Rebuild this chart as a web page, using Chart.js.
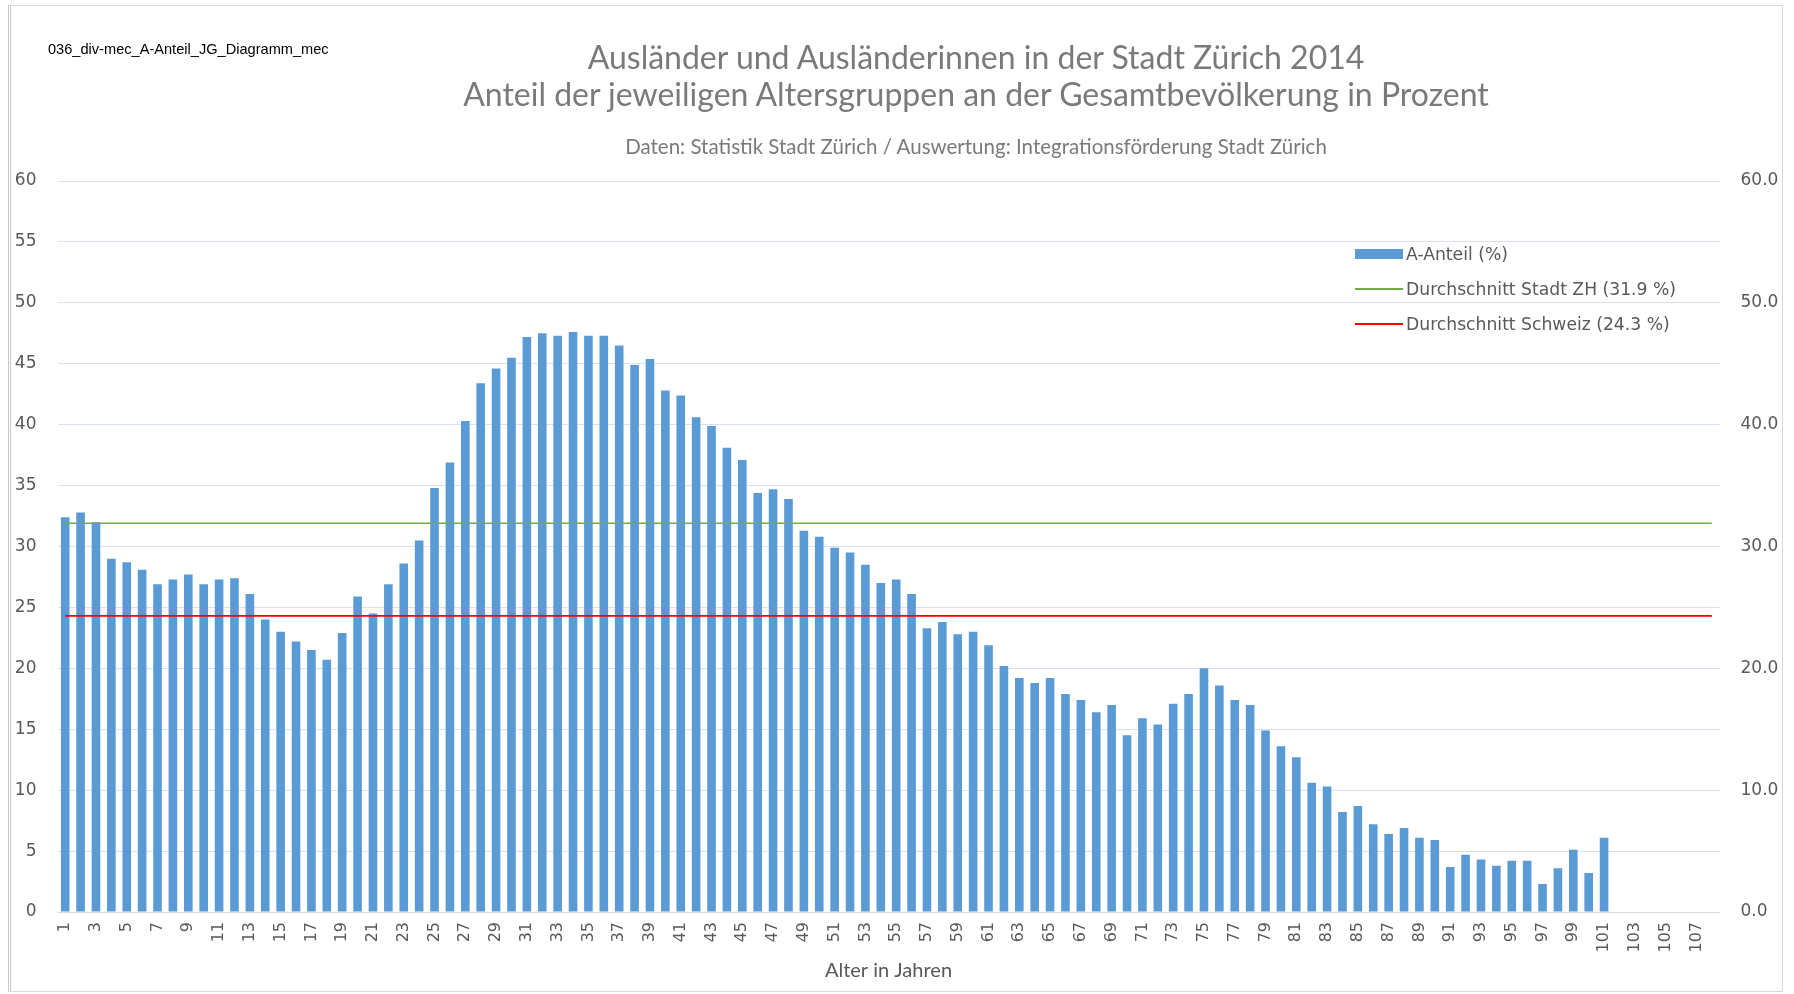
<!DOCTYPE html>
<html>
<head>
<meta charset="utf-8">
<script src="https://cdn.jsdelivr.net/npm/chart.js@4.4.1/dist/chart.umd.min.js"></script>
<style>
  html, body { margin: 0; padding: 0; background: #ffffff; }
  #wrap { position: relative; width: 1794px; height: 994px; overflow: hidden; background: #fff; }
  #c { position: absolute; left: 0; top: 0; }
  .frame { position: absolute; left: 8px; top: 5px; width: 1775px; height: 987px; box-sizing: border-box;
           border: 1px solid #d9d9d9; border-left: 3px double #c8c8c8; pointer-events: none; }
  .txt { position: absolute; white-space: nowrap; }
  #fname { left: 48px; top: 41px; font: 14.6px "Liberation Sans", Arial, sans-serif; color: #000; line-height: 16px; }
  .title { left: 976px; transform: translateX(-50%); font-family: Lato, "Open Sans", sans-serif; color: #7a7a7a; }
  #t1 { top: 38px; font-size: 32px; line-height: 37px; }
  #t2 { top: 75px; font-size: 32px; line-height: 37px; }
  #sub { top: 135px; font-size: 20.5px; line-height: 22px; color: #7a7a7a; }
  #legend { position: absolute; left: 1355px; top: 242px; font: 17.2px "DejaVu Sans", sans-serif; color: #595959; }
  .lrow { position: absolute; left: 0; height: 24px; white-space: nowrap; }
  .lsw { position: absolute; left: 0; width: 48px; }
  .ltx { position: absolute; left: 51px; top: 0; line-height: 24px; }
</style>
</head>
<body>
<div id="wrap">
  <canvas id="c" width="1794" height="994"></canvas>
  <div class="frame"></div>
  <div id="fname" class="txt">036_div-mec_A-Anteil_JG_Diagramm_mec</div>
  <div id="t1" class="txt title">Ausländer und Ausländerinnen in der Stadt Zürich 2014</div>
  <div id="t2" class="txt title">Anteil der jeweiligen Altersgruppen an der Gesamtbevölkerung in Prozent</div>
  <div id="sub" class="txt title">Daten: Statistik Stadt Zürich / Auswertung: Integrationsförderung Stadt Zürich</div>
  <div id="legend"></div>
</div>
<script>
// ---- data ----
const ages = ['1','2','3','4','5','6','7','8','9','10','11','12','13','14','15','16','17','18','19','20',
  '21','22','23','24','25','26','27','28','29','30','31','32','33','34','35','36','37','38','39','40',
  '41','42','43','44','45','46','47','48','49','50','51','52','53','54','55','56','57','58','59','60',
  '61','62','63','64','65','66','67','68','69','70','71','72','73','74','75','76','77','78','79','80',
  '81','82','83','84','85','86','87','88','89','90','91','92','93','94','95','96','97','98','99','100',
  '101','102','103','104','105','106','107','108'];

const aAnteil = [32.4, 32.8, 32.0, 29.0, 28.7, 28.1, 26.9, 27.3, 27.7, 26.9,
  27.3, 27.4, 26.1, 24.0, 23.0, 22.2, 21.5, 20.7, 22.9, 25.9,
  24.5, 26.9, 28.6, 30.5, 34.8, 36.9, 40.3, 43.4, 44.6, 45.5,
  47.2, 47.5, 47.3, 47.6, 47.3, 47.3, 46.5, 44.9, 45.4, 42.8,
  42.4, 40.6, 39.9, 38.1, 37.1, 34.4, 34.7, 33.9, 31.3, 30.8,
  29.9, 29.5, 28.5, 27.0, 27.3, 26.1, 23.3, 23.8, 22.8, 23.0,
  21.9, 20.2, 19.2, 18.8, 19.2, 17.9, 17.4, 16.4, 17.0, 14.5,
  15.9, 15.4, 17.1, 17.9, 20.0, 18.6, 17.4, 17.0, 14.9, 13.6,
  12.7, 10.6, 10.3, 8.2, 8.7, 7.2, 6.4, 6.9, 6.1, 5.9,
  3.7, 4.7, 4.3, 3.8, 4.2, 4.2, 2.3, 3.6, 5.1, 3.2,
  6.1, null, null, null, null, null, null, null];

const avgStadtZH = 31.9;
const avgSchweiz = 24.3;

const seriesNames = ['A-Anteil (%)', 'Durchschnitt Stadt ZH (31.9 %)', 'Durchschnitt Schweiz (24.3 %)'];
const leftTicks = [0, 5, 10, 15, 20, 25, 30, 35, 40, 45, 50, 55, 60];
const rightTicks = [0, 10, 20, 30, 40, 50, 60];
const xTitle = 'Alter in Jahren';

// ---- chart ----
const firstAge = ages[0], lastAge = ages[ages.length - 1];
const tickFont = { family: 'DejaVu Sans', size: 17 };

const chart = new Chart(document.getElementById('c'), {
  data: {
    labels: ages,
    datasets: [
      { type: 'bar', label: seriesNames[0], data: aAnteil, backgroundColor: '#5b9bd5',
        barPercentage: 0.56, categoryPercentage: 1.0, yAxisID: 'y', order: 2 },
      { type: 'line', label: seriesNames[1],
        data: [{ x: firstAge, y: avgStadtZH }, { x: lastAge, y: avgStadtZH }],
        borderColor: '#70ad47', borderWidth: 1.5, pointRadius: 0, fill: false, yAxisID: 'y', order: 1 },
      { type: 'line', label: seriesNames[2],
        data: [{ x: firstAge, y: avgSchweiz }, { x: lastAge, y: avgSchweiz }],
        borderColor: '#ff0000', borderWidth: 1.75, pointRadius: 0, fill: false, yAxisID: 'y', order: 0 }
    ]
  },
  options: {
    responsive: false,
    animation: false,
    devicePixelRatio: 1,
    layout: { padding: { left: 14, right: 15, top: 181, bottom: 11 } },
    plugins: { legend: { display: false }, title: { display: false }, tooltip: { enabled: false } },
    scales: {
      x: {
        type: 'category',
        grid: { display: false, drawTicks: false },
        border: { display: true, color: '#d9d9d9', width: 1 },
        ticks: {
          autoSkip: false, maxRotation: 90, minRotation: 90, padding: 10,
          color: '#595959', font: { family: 'DejaVu Sans', size: 16 },
          callback: function (v, i) { return i % 2 === 0 ? ages[i] : ''; }
        },
        title: { display: true, text: xTitle, color: '#595959',
                 font: { family: 'Lato', size: 20, lineHeight: 1.2 }, padding: { top: 0, bottom: 0 } },
        afterFit: function (s) { s.height = 71; }
      },
      y: {
        position: 'left', min: 0, max: 60,
        afterBuildTicks: function (s) { s.ticks = leftTicks.map(v => ({ value: v })); },
        grid: { color: '#d6e2f1', lineWidth: 1, drawTicks: false },
        border: { display: false },
        ticks: { padding: 21, color: '#595959', font: tickFont },
        afterFit: function (s) { s.width = 43.5; }
      },
      y2: {
        position: 'right', min: 0, max: 60,
        afterBuildTicks: function (s) { s.ticks = rightTicks.map(v => ({ value: v })); },
        grid: { display: false, drawTicks: false },
        border: { display: false },
        ticks: { padding: 21, color: '#595959', font: tickFont, crossAlign: 'near',
                 callback: function (v) { return Number(v).toFixed(1); } },
        afterFit: function (s) { s.width = 59.5; }
      }
    }
  }
});

// ---- HTML legend built from the chart's datasets ----
const legend = document.getElementById('legend');
const rowTops = [0, 35, 70];
chart.data.datasets.forEach(function (ds, i) {
  const row = document.createElement('div');
  row.className = 'lrow';
  row.style.top = rowTops[i] + 'px';
  const sw = document.createElement('div');
  sw.className = 'lsw';
  if (ds.type === 'bar') {
    sw.style.top = '7px'; sw.style.height = '10px'; sw.style.background = ds.backgroundColor;
  } else {
    sw.style.top = '11px'; sw.style.height = '1.5px'; sw.style.background = ds.borderColor;
  }
  const tx = document.createElement('div');
  tx.className = 'ltx';
  tx.textContent = ds.label;
  row.appendChild(sw); row.appendChild(tx);
  legend.appendChild(row);
});
</script>
</body>
</html>
